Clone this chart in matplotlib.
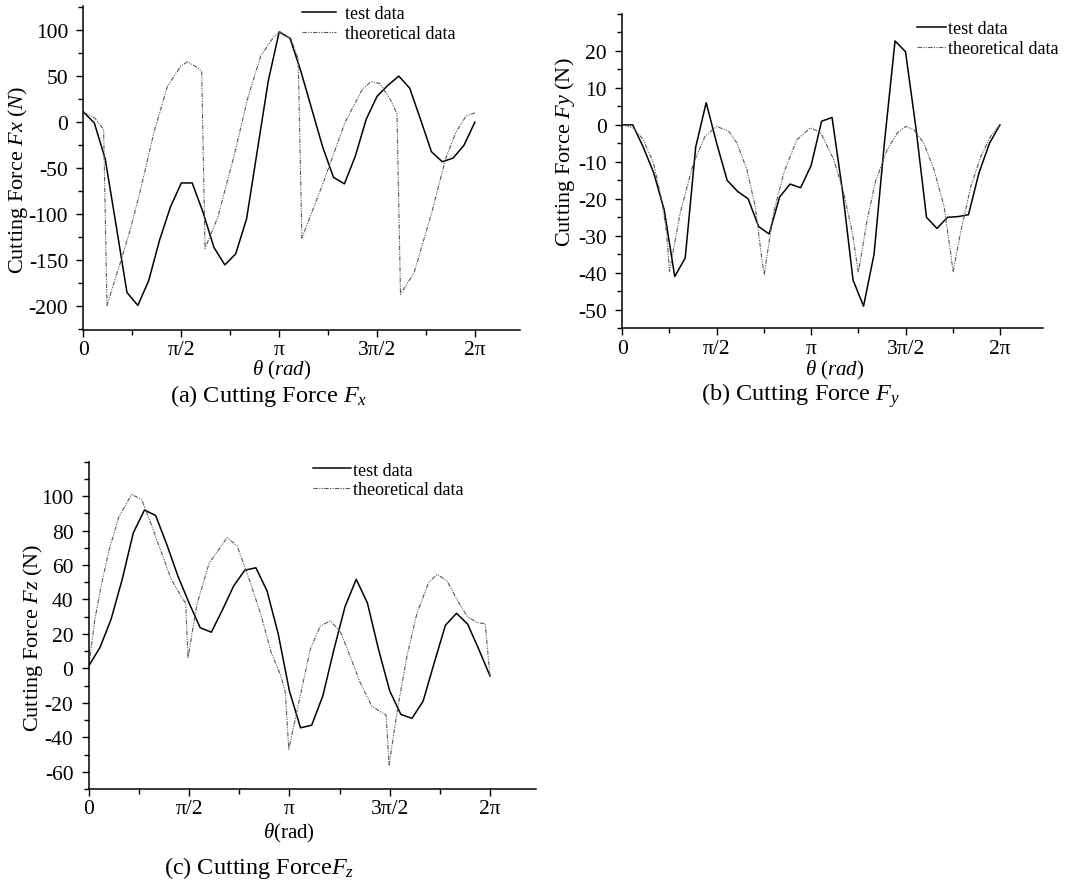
import numpy as np
import matplotlib
matplotlib.use("Agg")
import matplotlib.pyplot as plt
from matplotlib.ticker import FixedLocator

plt.rcParams['font.family'] = ['Liberation Serif', 'DejaVu Serif']
plt.rcParams['mathtext.fontset'] = 'custom'
plt.rcParams['mathtext.rm'] = 'Liberation Serif'
plt.rcParams['mathtext.it'] = 'Liberation Serif:italic'
plt.rcParams['axes.unicode_minus'] = False

# test data sampled every 10 degrees, 0..360
test_deg = np.arange(0, 361, 10)

fx_test = [11, -1, -40, -112, -185, -199, -172, -128, -92, -66, -66, -98, -136,
           -155, -143, -105, -30, 45, 98, 91, 55, 14, -27, -60, -67, -37, 3, 28,
           40, 50, 37, 3, -32, -43, -39, -25, 0]
fy_test = [0, 0, -6, -13, -23, -41, -36, -6, 6, -5, -15, -18, -20, -27.5, -29.5,
           -19.5, -16, -17, -11, 1, 2, -18, -42, -49, -35, -4.5, 22.7, 19.8, -1,
           -25, -28, -25, -24.8, -24.3, -13, -5, 0]
fz_test = [1.4, 12, 28.4, 51.6, 78.7, 91.9, 88.8, 72, 53.6, 38, 23.6, 21, 34,
           47.8, 57, 58.4, 44.9, 20, -13, -34.5, -33, -16, 11, 36, 51.7, 38, 11,
           -13, -26.7, -29, -19, 3.3, 25, 32, 25.6, 11, -4.4]

# theoretical curves, angle given in units of pi
fx_th_pi = [0, 0.06, 0.103, 0.12, 0.189, 0.24, 0.292, 0.36, 0.429, 0.498, 0.532,
            0.584, 0.604, 0.621, 0.685, 0.769, 0.838, 0.906, 0.975, 1.005, 1.061,
            1.097, 1.116, 1.23, 1.337, 1.426, 1.47, 1.514, 1.567, 1.602, 1.62,
            1.69, 1.78, 1.85, 1.903, 1.956, 2.0]
fx_th = [11, 4, -8, -199, -152, -116, -73, -11, 39, 61, 65.5, 59, 55, -137, -104,
         -37, 25, 72, 93.5, 98, 90, 69, -126, -63, 0, 36, 44, 42, 25, 9, -187,
         -163, -98, -40, -11, 7, 10]

fy_th_pi = [0, 0.058, 0.111, 0.165, 0.209, 0.235, 0.25, 0.306, 0.377, 0.439, 0.5,
            0.563, 0.607, 0.66, 0.704, 0.74, 0.752, 0.8, 0.855, 0.925, 0.996,
            1.05, 1.12, 1.173, 1.218, 1.25, 1.297, 1.341, 1.403, 1.456, 1.5,
            1.544, 1.597, 1.65, 1.704, 1.739, 1.752, 1.792, 1.846, 1.899, 1.952,
            2.0]
fy_th = [0, -0.8, -4, -10.3, -20.3, -29.3, -39.7, -24, -10.3, -3, -0.4, -1.7,
         -4.9, -12.1, -22, -36.6, -40.4, -24, -13, -4, -0.8, -2, -9.4, -18.5,
         -29, -40, -25.7, -15.3, -6.7, -2.2, -0.4, -1.3, -4.9, -12, -22, -34.7,
         -39.7, -29, -16.6, -8.5, -3, 0]

fz_th_pi = [0, 0.03, 0.06, 0.1, 0.15, 0.214, 0.264, 0.31, 0.36, 0.41, 0.47,
            0.483, 0.495, 0.539, 0.6, 0.69, 0.74, 0.805, 0.86, 0.91, 0.958, 0.98,
            0.997, 1.054, 1.104, 1.154, 1.203, 1.253, 1.303, 1.353, 1.411, 1.465,
            1.482, 1.497, 1.536, 1.586, 1.636, 1.694, 1.736, 1.786, 1.835, 1.885,
            1.935, 1.976, 2.0]
fz_th = [1, 28, 47, 68, 88, 101, 98, 84, 68, 52, 40, 38, 6.2, 37, 61, 76, 71, 50,
         30.4, 9, -4.4, -14, -47, -16, 11, 24.6, 27.5, 21.7, 7, -8.3, -22, -26,
         -27, -56.5, -25.7, 7, 32, 49.8, 54.6, 50.7, 40, 30.4, 26.5, 26, -4.4]

pi_ticks = [0, 0.5, 1, 1.5, 2]
pi_labels = ['0', 'π/2', 'π', '3π/2', '2π']

TH_STYLE = dict(color='0.35', lw=0.8, ls=(0, (4, 1.2, 1, 1.2, 1, 1.2)))
TEST_STYLE = dict(color='black', lw=1.1)


def style_axes(ax, ylim, yticks, yminor):
    ax.set_xlim(0, 7.0)
    ax.set_ylim(*ylim)
    ax.spines['top'].set_visible(False)
    ax.spines['right'].set_visible(False)
    ax.spines['left'].set_linewidth(1.1)
    ax.spines['bottom'].set_linewidth(1.1)
    ax.set_xticks(np.pi * np.array(pi_ticks))
    ax.set_xticklabels(pi_labels)
    ax.xaxis.set_minor_locator(FixedLocator(np.pi * np.array([0.25, 0.75, 1.25, 1.75])))
    ax.set_yticks(yticks)
    ax.set_yticklabels([str(v) for v in yticks])
    ax.yaxis.set_minor_locator(FixedLocator(yminor))
    ax.tick_params(which='both', direction='out', labelsize=15.5, width=1.0)
    ax.tick_params(which='major', length=5)
    ax.tick_params(axis='y', which='major', pad=6)
    ax.tick_params(axis='x', which='major', pad=2.5)
    ax.tick_params(which='minor', length=3.5)


fig = plt.figure(figsize=(10.69, 8.87), dpi=100)
LEG = dict(loc='upper left', frameon=False, fontsize=13, borderpad=0,
           borderaxespad=0, labelspacing=0.15)

# (a) Fx
ax1 = fig.add_axes([0.0781, 0.6268, 0.4079, 0.3649])
ax1.plot(np.deg2rad(test_deg), fx_test, label='test data', **TEST_STYLE)
ax1.plot(np.pi * np.array(fx_th_pi), fx_th, label='theoretical data', **TH_STYLE)
style_axes(ax1, (-225.7, 125.7), list(range(-200, 101, 50)), list(range(-225, 126, 25)))
ax1.set_ylabel('Cutting Force $Fx$ $(N)$', fontsize=16, va='center')
ax1.yaxis.set_label_coords(-0.15, 0.466)
ax1.set_xlabel(r'$\theta$ ($rad$)', fontsize=15, va='center')
ax1.xaxis.set_label_coords(0.455, -0.121)
ax1.legend(bbox_to_anchor=(0.50, 1.003), handlelength=1.9, handletextpad=0.5, **LEG)

# (b) Fy
ax2 = fig.add_axes([0.5821, 0.6288, 0.3936, 0.3543])
ax2.plot(np.deg2rad(test_deg), fy_test, label='test data', **TEST_STYLE)
ax2.plot(np.pi * np.array(fy_th_pi), fy_th, label='theoretical data', **TH_STYLE)
style_axes(ax2, (-55, 30), list(range(-50, 21, 10)), list(range(-55, 31, 5)))
ax2.set_ylabel('Cutting Force $Fy$ (N)', fontsize=16, va='center')
ax2.yaxis.set_label_coords(-0.135, 0.564)
ax2.set_xlabel(r'$\theta$ ($rad$)', fontsize=15, va='center')
ax2.xaxis.set_label_coords(0.505, -0.13)
ax2.legend(bbox_to_anchor=(0.70, 0.98), handlelength=1.6, handletextpad=0.15, **LEG)

# (c) Fz
ax3 = fig.add_axes([0.0830, 0.1094, 0.4182, 0.3690])
ax3.plot(np.deg2rad(test_deg), fz_test, label='test data', **TEST_STYLE)
ax3.plot(np.pi * np.array(fz_th_pi), fz_th, label='theoretical data', **TH_STYLE)
style_axes(ax3, (-70, 120), list(range(-60, 101, 20)), list(range(-70, 121, 10)))
ax3.set_ylabel('Cutting Force $Fz$ (N)', fontsize=16, va='center')
ax3.yaxis.set_label_coords(-0.125, 0.464)
ax3.set_xlabel(r'$\theta$(rad)', fontsize=15, va='center')
ax3.xaxis.set_label_coords(0.448, -0.132)
ax3.legend(bbox_to_anchor=(0.502, 1.0), handlelength=2.1, handletextpad=0.1, **LEG)

# captions
fig.text(0.2516, 0.554, '(a) Cutting Force $F_x$', fontsize=17.5, ha='center', va='center')
fig.text(0.7484, 0.554, '(b) Cutting Force $F_y$', fontsize=17.5, ha='center', va='center')
fig.text(0.2423, 0.0215, '(c) Cutting Force$F_z$', fontsize=17.5, ha='center', va='center')

fig.savefig('out.png', dpi=100)
